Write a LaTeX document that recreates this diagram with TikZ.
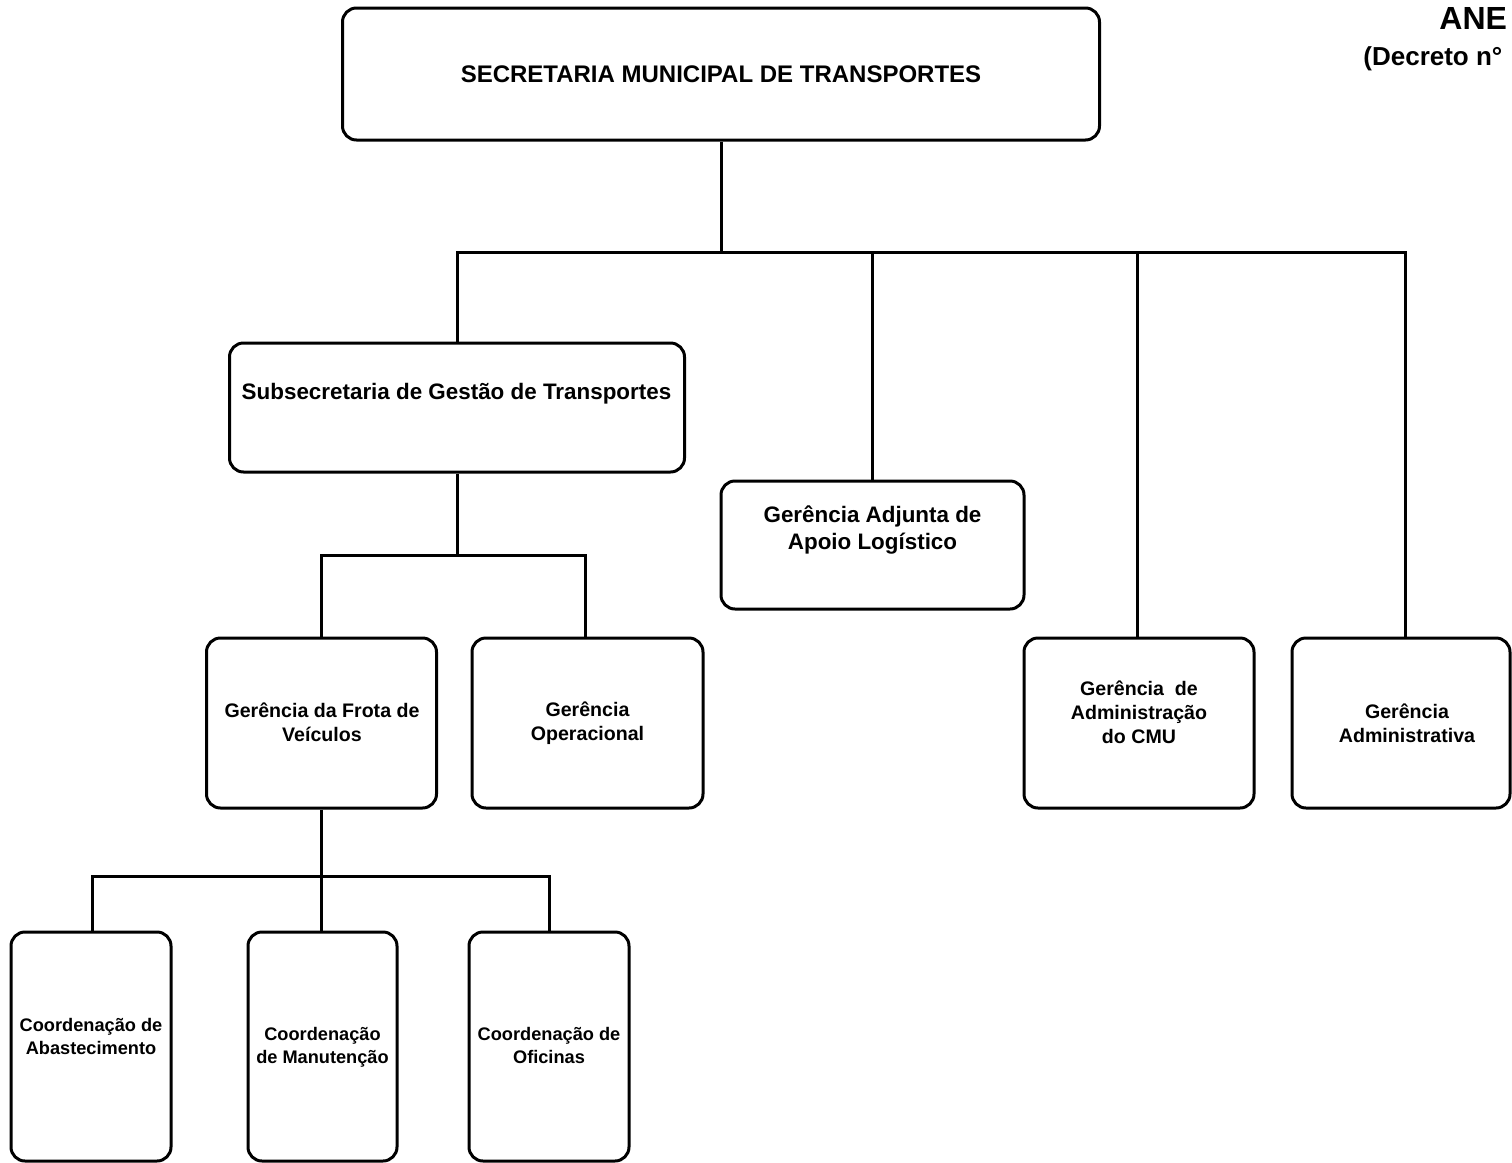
\documentclass[tikz,border=0pt]{standalone}
\usepackage{fontspec}
\setmainfont{Liberation Sans}
\begin{document}
\begin{tikzpicture}[x=0.5pt,y=-0.5pt,
  box/.style={draw, line width=1.5pt, rounded corners=7pt, inner sep=0pt},
  lbl/.style={align=center, inner sep=0pt},
  ftop/.style={font=\bfseries\fontsize{12}{14}\selectfont},
  fsub/.style={font=\bfseries\fontsize{11.2}{13.5}\selectfont},
  fger/.style={font=\bfseries\fontsize{9.8}{12.1}\selectfont},
  fcoo/.style={font=\bfseries\fontsize{9.1}{11.3}\selectfont},
  conn/.style={line width=1.5pt}]
\useasboundingbox (0,0) rectangle (1512,1163);

% header text (cut at the right edge)
\node[anchor=base west, inner sep=0pt, font=\bfseries\fontsize{16}{18}\selectfont] (anexo) at (1439,29) {ANE};
\node[anchor=base west, inner sep=0pt, font=\bfseries\fontsize{13}{15}\selectfont] (decreto) at (1363,65) {(Decreto n°};

% boxes
\node[box, minimum width=378.5pt, minimum height=66pt] (main) at (721,74) {};
\node[box, minimum width=227.5pt, minimum height=64.5pt] (sub) at (457,407.5) {};
\node[box, minimum width=151.5pt, minimum height=64pt] (adj) at (872.5,545) {};
\node[box, minimum width=115pt, minimum height=85pt] (frota) at (321.5,723) {};
\node[box, minimum width=115.5pt, minimum height=85pt] (oper) at (587.5,723) {};
\node[box, minimum width=115pt, minimum height=85pt] (cmu) at (1139,723) {};
\node[box, minimum width=109pt, minimum height=85pt] (adm) at (1401,723) {};
\node[box, minimum width=80pt, minimum height=114.5pt] (abast) at (91,1046.5) {};
\node[box, minimum width=74.5pt, minimum height=114.5pt] (manut) at (322.5,1046.5) {};
\node[box, minimum width=80pt, minimum height=114.5pt] (ofic) at (549,1046.5) {};

% labels
\node[lbl, ftop] (mainT) at (721,74) {SECRETARIA MUNICIPAL DE TRANSPORTES};
\node[lbl, fsub] (subT) at (456.5,394) {Subsecretaria de Gestão de Transportes};
\node[lbl, fsub] (adjT) at (872.5,530.5) {Gerência Adjunta de\\Apoio Logístico};
\node[lbl, fger] (frotaT) at (322,722.5) {Gerência da Frota de\\Veículos};
\node[lbl, fger] (operT) at (587.5,723.5) {Gerência\\Operacional};
\node[lbl, fger] (cmuT) at (1139,712) {Gerência\ \ de\\Administração\\do CMU};
\node[lbl, fger] (admT) at (1407,723.5) {Gerência\\Administrativa};
\node[lbl, fcoo] (abastT) at (91,1036.5) {Coordenação de\\Abastecimento};
\node[lbl, fcoo] (manutT) at (322.5,1047) {Coordenação\\de Manutenção};
\node[lbl, fcoo] (oficT) at (549,1045.5) {Coordenação de\\Oficinas};

% junctions
\coordinate (j1) at (721,252);
\coordinate (j2) at (457,555);
\coordinate (j3) at (321.5,876);

% connectors
\draw[conn] (main.south) -- (j1);
\draw[conn] (sub.north) |- (j1 -| 1405,0) -- ([xshift=2pt]adm.north);
\draw[conn] (adj.north) -- (adj.north |- j1);
\draw[conn] ([xshift=-1pt]cmu.north) -- ([xshift=-1pt]cmu.north |- j1);

\draw[conn] (sub.south) -- (j2);
\draw[conn] (frota.north) |- (j2) -| ([xshift=-1.25pt]oper.north);

\draw[conn] (frota.south) -- (j3);
\draw[conn] ([xshift=0.5pt]abast.north) |- (j3) -| (ofic.north);
\draw[conn] ([xshift=-0.5pt]manut.north) -- ([xshift=-0.5pt]manut.north |- j3);
\end{tikzpicture}
\end{document}
